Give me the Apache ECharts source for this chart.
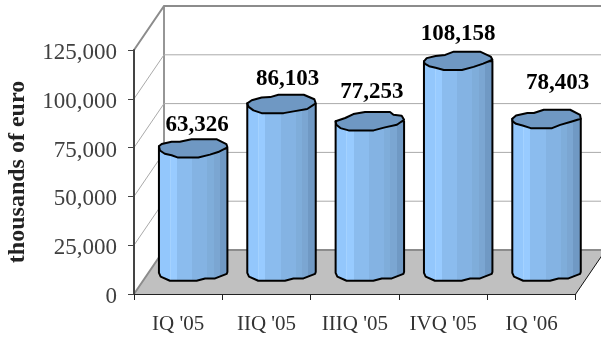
<!DOCTYPE html>
<html>
<head>
<meta charset="utf-8">
<style>html,body{margin:0;padding:0;background:#fff}#chart{width:601px;height:338px}</style>
<script src="https://cdn.jsdelivr.net/npm/echarts@6/dist/echarts.min.js"></script>
</head>
<body>
<div id="chart"></div>
<script>
// Quarterly figures, thousands of euro
const categories = ["IQ '05", "IIQ '05", "IIIQ '05", "IVQ '05", "IQ '06"];
const revenue = [63326, 86103, 77253, 108158, 78403];
const yTicks = [0, 25000, 50000, 75000, 100000, 125000];
const yTitle = 'thousands of euro';

// Pseudo-3D projection: how far the back wall sits from the front plane, in pixels
const DEPTH = { x: 30, y: -44 };
const BAR_RATIO = 0.775;
const RIM_HALF_HEIGHT = 9.2;
const SERIF = '"Liberation Serif", "Times New Roman", serif';

// Hand-faceted rims of the cylinders, normalised to half width and half height
const topRims = [
  [[-1,-.23],[-.92,-.47],[-.63,-.72],[-.39,-.72],[-.05,-1],[.68,-1],[.97,-.47],[1,-.12],[.73,.4],[.49,.68],[.15,1],[-.44,1],[-.63,.75],[-.83,.58],[-.97,.23]],
  [[-1,-.06],[-.87,-.4],[-.58,-.7],[-.33,-.74],[-.09,-1],[.65,-1],[.96,-.51],[1,-.06],[.75,.55],[.35,.81],[.06,1],[-.58,1],[-.82,.7],[-.96,.32]],
  [[-1,0],[-.72,-.35],[-.48,-.78],[-.14,-1],[.59,-1],[.69,-.71],[.93,-.6],[1,-.16],[.79,.38],[.44,.67],[.11,1],[-.62,1],[-.86,.75],[-.98,.38]],
  [[-1,.05],[-.92,-.3],[-.66,-.54],[-.38,-.65],[-.13,-1],[.64,-1],[.95,-.47],[1,-.12],[.73,.3],[.45,.65],[.11,1],[-.42,1],[-.66,.75],[-.85,.58],[-.98,.3]],
  [[-1,-.02],[-.89,-.38],[-.56,-.64],[-.37,-.64],[-.08,-1],[.69,-1],[.98,-.45],[1,-.02],[.74,.27],[.4,.64],[.16,1],[-.46,1],[-.7,.71],[-.89,.53],[-.99,.27]]
];
const bottomRim = [[-1,.1],[-.95,.5],[-.68,.95],[.1,.95],[.35,.7],[.64,.7],[.98,.2],[1,0]];

// Value labels were placed by hand above each cylinder
const labelNudge = [[4,-23],[6,-25],[2,-29],[0,-27],[11,-36]];

// Vertical facets of the cylinder wall, left to right
const BODY_BANDS = [
  [0,'#93c7fc'],[.165,'#93c7fc'],[.165,'#a4d2ff'],[.18,'#a4d2ff'],[.18,'#98cbff'],[.27,'#98cbff'],
  [.27,'#8bbcee'],[.49,'#8bbcee'],[.49,'#84b3e3'],[.7,'#84b3e3'],[.7,'#7fadda'],[.79,'#7fadda'],
  [.79,'#7ba6d2'],[.88,'#7ba6d2'],[.88,'#7099c4'],[1,'#7099c4']
].map(([offset, color]) => ({ offset, color }));

const fmt = v => Math.round(v).toString().replace(/\B(?=(\d{3})+$)/g, ',');

// Side and back wall rules for every y tick, plus the floor for the zero tick
function renderWall(params, api) {
  const v = api.value(1);
  const p = api.coord([0, v]);
  const band = api.size([1, 0])[0];
  const left = p[0] - band / 2;
  const right = left + band * categories.length;
  const y = p[1];
  const isFloor = v === 0;
  const isTop = v === yTicks[yTicks.length - 1];
  const children = [];
  if (isFloor) {
    children.push({
      type: 'polygon',
      shape: { points: [[left, y], [left + DEPTH.x, y + DEPTH.y], [right + DEPTH.x, y + DEPTH.y], [right, y]] },
      style: { fill: '#c0c0c0' }
    });
    children.push({
      type: 'line',
      shape: { x1: right, y1: y, x2: right + DEPTH.x, y2: y + DEPTH.y },
      style: { stroke: '#111', lineWidth: 1 }
    });
    // Back corner of the side wall
    const topY = api.coord([0, yTicks[yTicks.length - 1]])[1] + DEPTH.y;
    children.push({
      type: 'line',
      shape: { x1: left + DEPTH.x, y1: y + DEPTH.y, x2: left + DEPTH.x, y2: topY },
      style: { stroke: '#969696', lineWidth: 2 }
    });
  }
  const heavy = isFloor || isTop;
  children.push({
    type: 'polyline',
    shape: { points: [[left, y], [left + DEPTH.x, y + DEPTH.y], [right + DEPTH.x, y + DEPTH.y]] },
    style: { fill: null, stroke: heavy ? '#8c8c8c' : '#aaaaaa', lineWidth: heavy ? 2 : 1 }
  });
  return { type: 'group', children };
}

// One faceted cylinder standing mid-way between the front plane and the back wall
function renderCylinder(params, api) {
  const i = api.value(0);
  const v = api.value(1);
  const base = api.coord([i, 0]);
  const head = api.coord([i, v]);
  const band = api.size([1, 0])[0];
  const cx = base[0] + DEPTH.x / 2;
  const hw = band * BAR_RATIO / 2;
  const topY = head[1] + DEPTH.y / 2;
  const botY = base[1] + DEPTH.y / 2;
  const rim = topRims[i];
  const top = rim.map(([u, w]) => [cx + u * hw, topY + w * RIM_HALF_HEIGHT]);
  const bottom = bottomRim.map(([u, w]) => [cx + u * hw, botY + w * RIM_HALF_HEIGHT]);
  const body = [[cx - hw, topY + rim[0][1] * RIM_HALF_HEIGHT], ...bottom, [cx + hw, topY]];
  const nudge = labelNudge[i];
  return {
    type: 'group',
    children: [
      {
        type: 'polygon',
        shape: { points: body },
        style: {
          fill: new echarts.graphic.LinearGradient(0, 0, 1, 0, BODY_BANDS),
          stroke: '#000', lineWidth: 2, lineJoin: 'round'
        }
      },
      {
        type: 'polygon',
        shape: { points: top },
        style: { fill: '#6f98c3', stroke: '#000', lineWidth: 2, lineJoin: 'round' }
      },
      {
        type: 'text',
        style: {
          x: cx + nudge[0], y: topY + nudge[1],
          text: fmt(v),
          align: 'center', verticalAlign: 'middle',
          font: 'bold 23px ' + SERIF,
          fill: '#000'
        }
      }
    ]
  };
}

const chart = echarts.init(document.getElementById('chart'));
chart.setOption({
  animation: false,
  backgroundColor: '#fff',
  grid: { left: 134, right: 25.3, top: 50, bottom: 44, outerBoundsMode: 'none' },
  xAxis: {
    type: 'category',
    data: categories,
    z: 10,
    axisLine: { lineStyle: { color: '#222', width: 1 } },
    axisTick: { show: true, length: 6, alignWithLabel: false, lineStyle: { color: '#222' } },
    axisLabel: { color: '#333', fontFamily: SERIF, fontSize: 21, margin: 20, interval: 0 }
  },
  yAxis: {
    type: 'value',
    min: 0,
    max: 125000,
    interval: 25000,
    z: 10,
    name: yTitle,
    nameLocation: 'middle',
    nameGap: 104,
    nameTextStyle: { color: '#222', fontFamily: SERIF, fontSize: 24, fontWeight: 'bold' },
    axisLine: { show: true, lineStyle: { color: '#444', width: 2 } },
    axisTick: { show: true, length: 6, lineStyle: { color: '#444' } },
    axisLabel: { color: '#404040', fontFamily: SERIF, fontSize: 23, margin: 17, verticalAlign: 'top', lineHeight: 6, formatter: fmt },
    splitLine: { show: false }
  },
  series: [
    {
      type: 'custom',
      z: 1,
      clip: false,
      silent: true,
      renderItem: renderWall,
      data: yTicks.map(v => [0, v])
    },
    {
      type: 'custom',
      z: 3,
      clip: false,
      silent: true,
      renderItem: renderCylinder,
      data: revenue.map((v, i) => [i, v])
    }
  ]
});
</script>
</body>
</html>
